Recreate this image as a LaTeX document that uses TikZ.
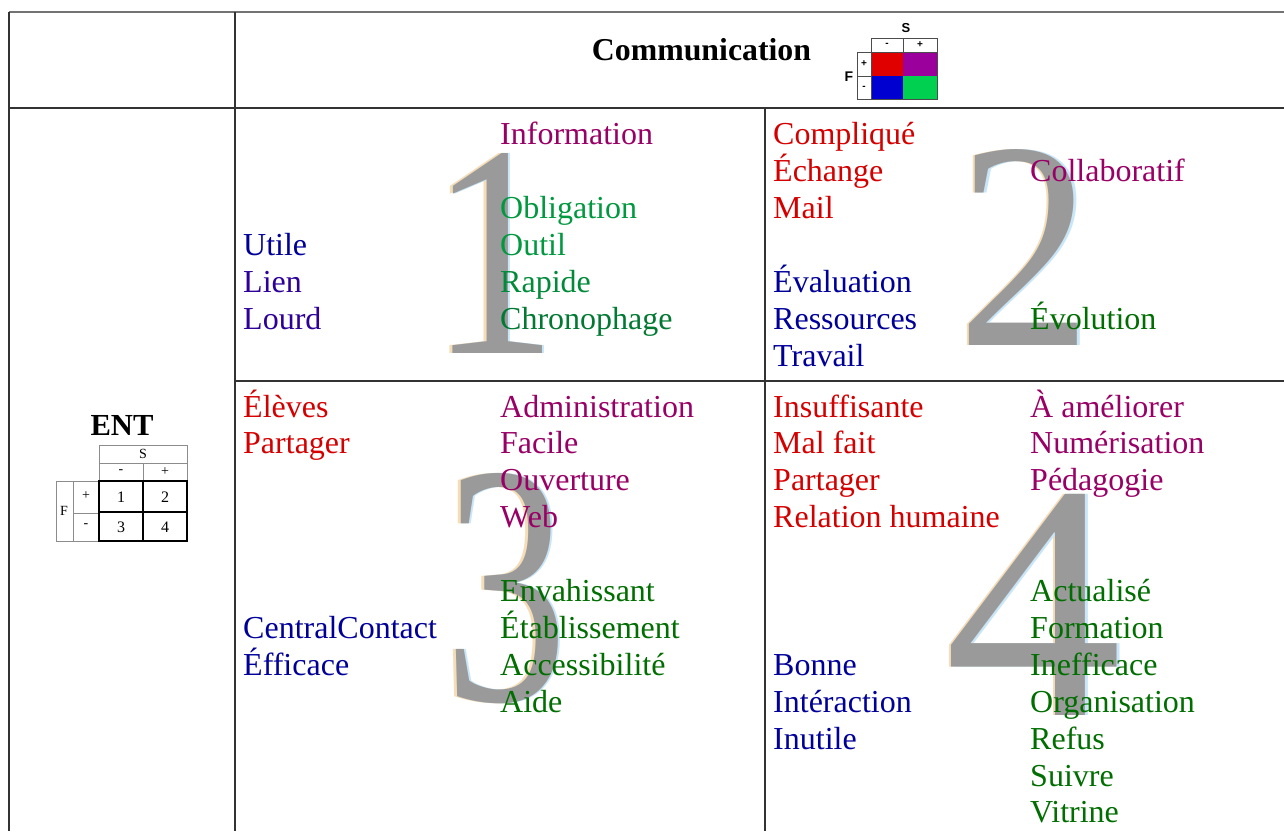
\documentclass[tikz,border=0pt]{standalone}
\usepackage{fontspec}
\setmainfont{Liberation Serif}
\setsansfont{Liberation Sans}
\definecolor{cred}{HTML}{D40000}
\definecolor{cpur}{HTML}{990066}
\definecolor{cgrn}{HTML}{00993F}
\definecolor{cdgr}{HTML}{006E00}
\definecolor{cblu}{HTML}{000099}
\definecolor{cind}{HTML}{2E0099}
\definecolor{numgray}{HTML}{9A9A9A}
\definecolor{fringeA}{HTML}{F5DDB8}
\definecolor{fringeB}{HTML}{C8E6F8}
\definecolor{ired}{HTML}{E00000}
\definecolor{ipur}{HTML}{9C009C}
\definecolor{iblu}{HTML}{0000D0}
\definecolor{igrn}{HTML}{00D050}
\tikzset{
  w/.style={anchor=base west, inner sep=0pt, font=\fontsize{32}{37}\selectfont},
  grid/.style={draw=black!80, line width=1.2pt},
  numg/.style={anchor=base, inner sep=0pt, text=numgray},
  numa/.style={anchor=base, inner sep=0pt, text=fringeA},
  numb/.style={anchor=base, inner sep=0pt, text=fringeB},
  tiny/.style={inner sep=0pt, font=\fontsize{11}{11}\selectfont},
  thin/.style={draw=black!45, line width=0.8pt},
  thick4/.style={draw=black, line width=2.6pt},
}
\begin{document}
\begin{tikzpicture}[x=1pt,y=-1pt]
\useasboundingbox[fill=white] (0,0) rectangle (1284,831);

% big numerals (background)
\foreach \nm/\xx/\yy/\sz/\xs/\d in {n1/494/353/303/0.84/1, n2/1025/345/296/0.91/2, n3/506/700/343/0.72/3, n4/1034/715/336/1.06/4}{
  \node[numa, font=\fontsize{\sz}{\sz}\selectfont] (\nm a) at (\xx-2.5,\yy) {\scalebox{\xs}[1]{\d}};
  \node[numb, font=\fontsize{\sz}{\sz}\selectfont] (\nm b) at (\xx+2.5,\yy) {\scalebox{\xs}[1]{\d}};
  \node[numg, font=\fontsize{\sz}{\sz}\selectfont] (\nm) at (\xx,\yy) {\scalebox{\xs}[1]{\d}};
}

% table lines
\draw[draw=black!55, line width=2pt] (9,12) -- (1284,12);
\draw[grid] (9,12) -- (9,831);
\draw[grid] (235,12) -- (235,831);
\draw[grid] (9,108) -- (1284,108);
\draw[grid] (765,108) -- (765,831);
\draw[grid] (235,381) -- (1284,381);

% header
\node[anchor=base, inner sep=0pt, font=\fontsize{31.8}{32}\selectfont\bfseries] (comm) at (701.5,60) {Communication};

% header icon
\fill[ired] (871,52) rectangle (903,76);
\fill[ipur] (903,52) rectangle (937,76);
\fill[iblu] (871,76) rectangle (903,99);
\fill[igrn] (903,76) rectangle (937,99);
\draw[black!70, line width=0.7pt] (871,38) rectangle (937,52) (903,38) -- (903,52);
\draw[black!70, line width=0.7pt] (857,52) rectangle (871,99) (857,76) -- (871,76);
\draw[black!70, line width=0.7pt] (871,52) rectangle (937,99);
\node[inner sep=0pt, font=\sffamily\bfseries\fontsize{13}{13}\selectfont] (iS) at (906,28) {S};
\node[tiny, font=\sffamily\bfseries\fontsize{10}{10}\selectfont] (im) at (887,45) {-};
\node[tiny, font=\sffamily\bfseries\fontsize{10}{10}\selectfont] (ip) at (920,45) {+};
\node[tiny, font=\sffamily\bfseries\fontsize{10}{10}\selectfont] (ip2) at (864,64) {+};
\node[tiny, font=\sffamily\bfseries\fontsize{10}{10}\selectfont] (im2) at (864,88) {-};
\node[inner sep=0pt, font=\sffamily\bfseries\fontsize{14}{14}\selectfont] (iF) at (849,77) {F};

% ENT label and icon
\node[anchor=base, inner sep=0pt, font=\fontsize{30.6}{31}\selectfont\bfseries] (ent) at (122,435) {ENT};
\draw[thin] (99,445) rectangle (187,463);
\draw[thin] (99,463) rectangle (187,481) (143,463) -- (143,481);
\draw[thin] (56,481) rectangle (73,541);
\draw[thin] (73,481) rectangle (99,541) (73,513) -- (99,513);
\draw[thick4] (99,481) rectangle (187,541) (143,481) -- (143,541) (99,512) -- (187,512);
\node[tiny, font=\fontsize{14}{14}\selectfont] (eS) at (143,454) {S};
\node[tiny, font=\fontsize{14}{14}\selectfont] (em) at (121,472) {-};
\node[tiny, font=\fontsize{14}{14}\selectfont] (ep) at (165,472) {+};
\node[tiny, font=\fontsize{16}{16}\selectfont] (e1) at (121,497) {1};
\node[tiny, font=\fontsize{16}{16}\selectfont] (e2) at (165,497) {2};
\node[tiny, font=\fontsize{16}{16}\selectfont] (e3) at (121,527) {3};
\node[tiny, font=\fontsize{16}{16}\selectfont] (e4) at (165,527) {4};
\node[tiny, font=\fontsize{14}{14}\selectfont] (eF) at (64,511) {F};
\node[tiny, font=\fontsize{14}{14}\selectfont] (ep2) at (86,496) {+};
\node[tiny, font=\fontsize{14}{14}\selectfont] (em2) at (86,526) {-};

% quadrant 1
\node[w, text=cpur] (q1a) at (500,144) {Information};
\node[w, text=cgrn] (q1b) at (500,218) {Obligation};
\node[w, text=cgrn] (q1c) at (500,255) {Outil};
\node[w, text=cgrn!90!black] (q1d) at (500,292) {Rapide};
\node[w, text=cgrn!80!black] (q1e) at (500,329) {Chronophage};
\node[w, text=cblu] (q1f) at (243,255) {Utile};
\node[w, text=cind] (q1g) at (243,292) {Lien};
\node[w, text=cind] (q1h) at (243,329) {Lourd};

% quadrant 2
\node[w, text=cred] (q2a) at (773,144) {Compliqué};
\node[w, text=cred] (q2b) at (773,181) {Échange};
\node[w, text=cred] (q2c) at (773,218) {Mail};
\node[w, text=cpur] (q2d) at (1030,181) {Collaboratif};
\node[w, text=cblu] (q2e) at (773,292) {Évaluation};
\node[w, text=cblu] (q2f) at (773,329) {Ressources};
\node[w, text=cblu] (q2g) at (773,366) {Travail};
\node[w, text=cdgr] (q2h) at (1030,329) {Évolution};

% quadrant 3
\node[w, text=cred] (q3a) at (243,417) {Élèves};
\node[w, text=cred] (q3b) at (243,453.9) {Partager};
\node[w, text=cpur] (q3c) at (500,417) {Administration};
\node[w, text=cpur] (q3d) at (500,453.9) {Facile};
\node[w, text=cpur] (q3e) at (500,490.8) {Ouverture};
\node[w, text=cpur] (q3f) at (500,527.7) {Web};
\node[w, text=cdgr] (q3g) at (500,601.5) {Envahissant};
\node[w, text=cdgr] (q3h) at (500,638.4) {Établissement};
\node[w, text=cdgr] (q3i) at (500,675.3) {Accessibilité};
\node[w, text=cdgr] (q3j) at (500,712.2) {Aide};
\node[w, text=cblu] (q3k) at (243,638.4) {CentralContact};
\node[w, text=cblu] (q3l) at (243,675.3) {Éfficace};

% quadrant 4
\node[w, text=cred] (q4a) at (773,417) {Insuffisante};
\node[w, text=cred] (q4b) at (773,453.9) {Mal fait};
\node[w, text=cred] (q4c) at (773,490.8) {Partager};
\node[w, text=cred] (q4d) at (773,527.7) {Relation humaine};
\node[w, text=cpur] (q4e) at (1030,417) {À améliorer};
\node[w, text=cpur] (q4f) at (1030,453.9) {Numérisation};
\node[w, text=cpur] (q4g) at (1030,490.8) {Pédagogie};
\node[w, text=cdgr] (q4h) at (1030,601.5) {Actualisé};
\node[w, text=cdgr] (q4i) at (1030,638.4) {Formation};
\node[w, text=cdgr] (q4j) at (1030,675.3) {Inefficace};
\node[w, text=cdgr] (q4k) at (1030,712.2) {Organisation};
\node[w, text=cdgr] (q4l) at (1030,749.1) {Refus};
\node[w, text=cdgr] (q4m) at (1030,786) {Suivre};
\node[w, text=cdgr] (q4n) at (1030,822.9) {Vitrine};
\node[w, text=cblu] (q4o) at (773,675.3) {Bonne};
\node[w, text=cblu] (q4p) at (773,712.2) {Intéraction};
\node[w, text=cblu] (q4q) at (773,749.1) {Inutile};
\end{tikzpicture}
\end{document}
